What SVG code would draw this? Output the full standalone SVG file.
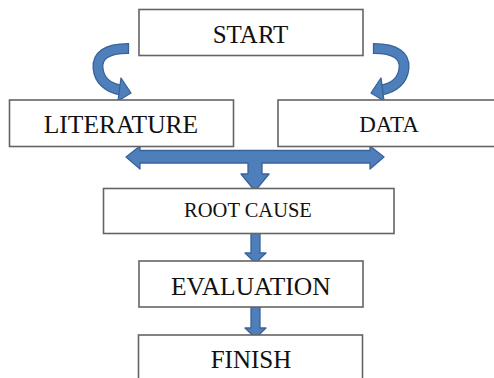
<svg xmlns="http://www.w3.org/2000/svg" width="494" height="378" viewBox="0 0 494 378">
<style>
.box{fill:#fff;stroke:#646464;stroke-width:1.6}
.lbl{font-family:"Liberation Serif","Times New Roman",serif;fill:#111;text-anchor:middle}
.arr{fill:#4f7fbb;stroke:#38639a;stroke-width:1.3;stroke-linejoin:round}
.band{fill:none;stroke:#4f7fbb;stroke-width:8.5}
</style>
<defs>
<g id="curl">
<path d="M128,48.5 C106,48.5 97,56 98,68 C99,80 108,88 121,90" fill="none" stroke="#38639a" stroke-width="11"/>
<path d="M128,48.5 C106,48.5 97,56 98,68 C99,80 108,88 121,90" class="band"/>
<path d="M128.5,43 L128.5,54" stroke="#38639a" stroke-width="1.3"/>
<polygon class="arr" points="131,93 121,78 118,101"/>
</g>
</defs>
<rect width="494" height="378" fill="#fff"/>
<g id="connectors">
<use href="#curl"/>
<use href="#curl" transform="translate(502,0) scale(-1,1)"/>
<polygon class="arr" points="126,157 140,146 140,150.5 370,150.5 370,146 384,157 370,169 370,163 262,163 262,174 269,174 255,191 241,174 248,174 248,163 140,163 140,169"/>
<polygon class="arr" points="251,233 260,233 260,253 266,253 255.5,263 245,253 251,253"/>
<polygon class="arr" points="251,307 260,307 260,328 266,328 255.5,338 245,328 251,328"/>
</g>
<g id="start"><rect class="box" x="139" y="9.5" width="224" height="46"/><text class="lbl" x="250.5" y="43" font-size="25">START</text></g>
<g id="literature"><rect class="box" x="9.5" y="100" width="224" height="46.5"/><text class="lbl" x="121" y="133" font-size="25.5">LITERATURE</text></g>
<g id="data"><rect class="box" x="278" y="100" width="230" height="46.5"/><text class="lbl" x="389" y="131.5" font-size="23">DATA</text></g>
<g id="rootcause"><rect class="box" x="103.5" y="188.5" width="290.5" height="45"/><text class="lbl" x="248" y="216.5" font-size="20.5">ROOT CAUSE</text></g>
<g id="evaluation"><rect class="box" x="139" y="261" width="224" height="46"/><text class="lbl" x="250.8" y="295" font-size="25.5">EVALUATION</text></g>
<g id="finish"><rect class="box" x="138.5" y="335" width="224" height="60"/><text class="lbl" x="251" y="368" font-size="25">FINISH</text></g>
</svg>
